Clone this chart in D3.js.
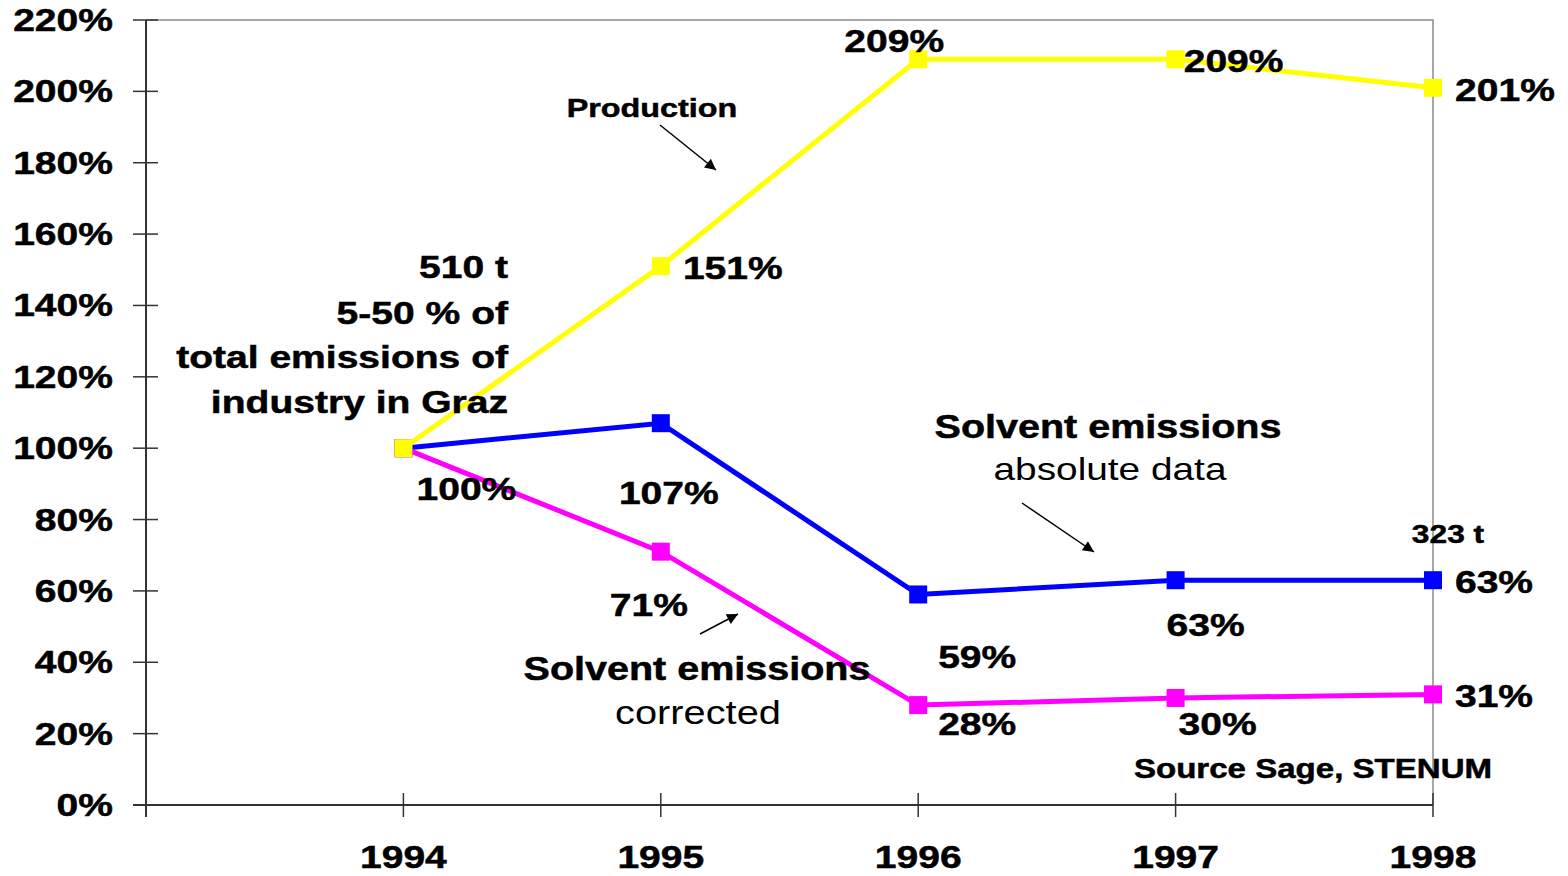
<!DOCTYPE html>
<html>
<head>
<meta charset="utf-8">
<script src="https://cdn.jsdelivr.net/npm/d3@7"></script>
<style>
  body { margin: 0; background: #fff; }
  svg text { font-family: "Liberation Sans", Arial, sans-serif; fill: #000; }
</style>
</head>
<body>
<div class="chart"></div>
<script>
var svgWidth = 1568;
var svgHeight = 876;

var margin = { top: 20, right: 135, bottom: 71, left: 146 };
var width = svgWidth - margin.left - margin.right;
var height = svgHeight - margin.top - margin.bottom;

// text in the source is stretched horizontally
var stretch = 1.22;

// data
var years = [1994, 1995, 1996, 1997, 1998];
var production = [100, 151, 209, 209, 201];
var absolute = [100, 107, 59, 63, 63];
var corrected = [100, 71, 28, 30, 31];
var yTicks = [0, 20, 40, 60, 80, 100, 120, 140, 160, 180, 200, 220];

var series = [
  { name: "production", values: production, color: "#ffff00" },
  { name: "absolute", values: absolute, color: "#0000ff" },
  { name: "corrected", values: corrected, color: "#ff00ff" }
];

// label offsets from each point (dx, dy), per series
var labelOffsets = {
  production: [null, [72, 13], [-24, -7], [58, 13], [72, 13]],
  absolute: [[63, 52], [8, 81], [59, 74], [30, 56], [61, 13]],
  corrected: [null, [-12, 64], [59, 30], [42, 37], [61, 13]]
};

var svg = d3.select(".chart")
  .append("svg")
  .attr("width", svgWidth)
  .attr("height", svgHeight);

var chartGroup = svg.append("g")
  .attr("transform", `translate(${margin.left}, ${margin.top})`);

var xScale = d3.scaleLinear().domain([1993, 1998]).range([0, width]);
var yScale = d3.scaleLinear().domain([0, 220]).range([height, 0]);

function addText(g, x, y, str, size, anchor, weight) {
  var t = g.append("text")
    .attr("transform", `translate(${x}, ${y}) scale(${stretch}, 1)`)
    .attr("text-anchor", anchor || "start")
    .style("font-size", size + "px")
    .style("font-weight", weight || "bold")
    .text(str);
  if (weight !== "normal") {
    t.attr("stroke", "#000").attr("stroke-width", 0.5);
  }
  return t;
}

// frame: top and right in grey
chartGroup.append("path")
  .attr("d", `M0,0H${width}V${height}`)
  .attr("fill", "none")
  .attr("stroke", "#8c8c8c")
  .attr("stroke-width", 1.5);

// left axis
var leftAxis = chartGroup.append("g");
leftAxis.append("line")
  .attr("x1", 0).attr("x2", 0).attr("y1", 0).attr("y2", height + 12)
  .attr("stroke", "#333").attr("stroke-width", 2);
leftAxis.selectAll(".ytick")
  .data(yTicks)
  .enter()
  .append("line")
  .attr("x1", -13).attr("x2", 12)
  .attr("y1", d => yScale(d)).attr("y2", d => yScale(d))
  .attr("stroke", "#333").attr("stroke-width", 1.5);
yTicks.forEach(function(t) {
  addText(leftAxis, -33, yScale(t) + 11, t + "%", 32, "end");
});

// bottom axis
var bottomAxis = chartGroup.append("g");
bottomAxis.append("line")
  .attr("x1", -13).attr("x2", width).attr("y1", height).attr("y2", height)
  .attr("stroke", "#333").attr("stroke-width", 2);
bottomAxis.selectAll(".xtick")
  .data([1993].concat(years))
  .enter()
  .append("line")
  .attr("x1", d => xScale(d)).attr("x2", d => xScale(d))
  .attr("y1", height - 12).attr("y2", height + 12)
  .attr("stroke", "#333").attr("stroke-width", 1.5);
years.forEach(function(yr) {
  addText(bottomAxis, xScale(yr), height + 63, yr, 32, "middle");
});

// lines and markers
var line = d3.line()
  .x((d, i) => xScale(years[i]))
  .y(d => yScale(d));

// draw blue and magenta first, yellow on top
[series[1], series[2], series[0]].forEach(function(s) {
  chartGroup.append("path")
    .attr("d", line(s.values))
    .attr("fill", "none")
    .attr("stroke", s.color)
    .attr("stroke-width", 5);
  chartGroup.selectAll(".m-" + s.name)
    .data(s.values)
    .enter()
    .append("rect")
    .attr("x", (d, i) => xScale(years[i]) - 9)
    .attr("y", d => yScale(d) - 9)
    .attr("width", 18)
    .attr("height", 18)
    .attr("fill", s.color);
});

// value labels
series.forEach(function(s) {
  s.values.forEach(function(v, i) {
    var off = labelOffsets[s.name][i];
    if (!off) return;
    addText(chartGroup, xScale(years[i]) + off[0], yScale(v) + off[1], v + "%", 32, "middle");
  });
});

// annotations
var ann = chartGroup.append("g");
addText(ann, 362, 258, "510 t", 32, "end");
addText(ann, 362, 304, "5-50 % of", 32, "end");
addText(ann, 362, 348, "total emissions of", 32, "end");
addText(ann, 362, 393, "industry in Graz", 32, "end");

addText(ann, 506, 97, "Production", 26.5, "middle");
addText(ann, 962, 418, "Solvent emissions", 32.4, "middle");
addText(ann, 964, 460, "absolute data", 31.8, "middle", "normal");
addText(ann, 551, 660, "Solvent emissions", 32.4, "middle");
addText(ann, 552, 704, "corrected", 32.6, "middle", "normal");
addText(ann, 1167, 758, "Source Sage, STENUM", 27.1, "middle");
addText(ann, 1302, 523, "323 t", 26, "middle");

// arrows
svg.append("defs").append("marker")
  .attr("id", "arrow")
  .attr("viewBox", "0 0 10 10")
  .attr("refX", 10).attr("refY", 5)
  .attr("markerWidth", 14).attr("markerHeight", 11)
  .attr("markerUnits", "userSpaceOnUse")
  .attr("orient", "auto")
  .append("path")
  .attr("d", "M0,0L10,5L0,10z")
  .attr("fill", "#000");

var arrows = [
  [514, 105, 570, 150],
  [876, 483, 948, 532],
  [554, 614, 592, 594]
];
arrows.forEach(function(a) {
  ann.append("line")
    .attr("x1", a[0]).attr("y1", a[1]).attr("x2", a[2]).attr("y2", a[3])
    .attr("stroke", "#000").attr("stroke-width", 1.5)
    .attr("marker-end", "url(#arrow)");
});
</script>
</body>
</html>
